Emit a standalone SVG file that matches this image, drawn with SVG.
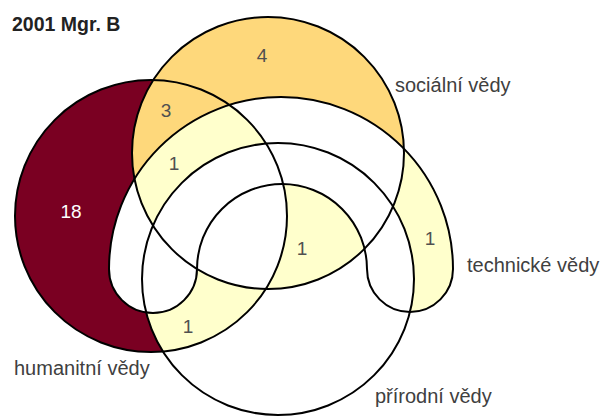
<svg xmlns="http://www.w3.org/2000/svg" xmlns:xlink="http://www.w3.org/1999/xlink" width="605" height="416" viewBox="0 0 605 416">
<style>
.outline{fill:none;stroke:#000;stroke-width:2}
.label{font-family:"Liberation Sans",Arial,sans-serif;font-size:20px;fill:#404040}
.num{font-family:"Liberation Sans",Arial,sans-serif;font-size:19px;fill:#505050;text-anchor:middle}
.title{font-family:"Liberation Sans",Arial,sans-serif;font-size:19.5px;font-weight:bold;fill:#222}
.maroon{fill:#7A0022}
.orange{fill:#FED87B}
.yellow{fill:#FFFFCC}
</style>
<defs>
<circle id="cH" cx="151" cy="216" r="136"/>
<circle id="cS" cx="268" cy="153" r="136"/>
<circle id="cP" cx="278" cy="279" r="136"/>
<path id="pT" d="M109,269 A172,172 0 0 1 453,269 A43,43 0 0 1 367,269 A85,85 0 0 0 197,269 A44,44 0 0 1 109,269 Z"/>
<clipPath id="clipH"><use xlink:href="#cH"/></clipPath>
<clipPath id="clipS"><use xlink:href="#cS"/></clipPath>
<mask id="mSTP" maskUnits="userSpaceOnUse" x="0" y="0" width="605" height="416">
<rect width="605" height="416" fill="#fff"/>
<use xlink:href="#cS" fill="#000"/><use xlink:href="#pT" fill="#000"/><use xlink:href="#cP" fill="#000"/>
</mask>
<mask id="mTP" maskUnits="userSpaceOnUse" x="0" y="0" width="605" height="416">
<rect width="605" height="416" fill="#fff"/>
<use xlink:href="#pT" fill="#000"/><use xlink:href="#cP" fill="#000"/>
</mask>
<mask id="mP" maskUnits="userSpaceOnUse" x="0" y="0" width="605" height="416">
<rect width="605" height="416" fill="#fff"/>
<use xlink:href="#cP" fill="#000"/>
</mask>
<mask id="mHT" maskUnits="userSpaceOnUse" x="0" y="0" width="605" height="416">
<rect width="605" height="416" fill="#fff"/>
<use xlink:href="#cH" fill="#000"/><use xlink:href="#pT" fill="#000"/>
</mask>
<mask id="mHSP" maskUnits="userSpaceOnUse" x="0" y="0" width="605" height="416">
<rect width="605" height="416" fill="#fff"/>
<use xlink:href="#cH" fill="#000"/><use xlink:href="#cS" fill="#000"/><use xlink:href="#cP" fill="#000"/>
</mask>
<mask id="mST" maskUnits="userSpaceOnUse" x="0" y="0" width="605" height="416">
<rect width="605" height="416" fill="#fff"/>
<use xlink:href="#cS" fill="#000"/><use xlink:href="#pT" fill="#000"/>
</mask>
</defs>
<rect width="605" height="416" fill="#fff"/>
<g id="regions">
<use xlink:href="#cH" class="maroon" mask="url(#mSTP)"/>
<use xlink:href="#cS" class="orange" mask="url(#mTP)"/>
<g clip-path="url(#clipH)"><g clip-path="url(#clipS)"><use xlink:href="#pT" class="yellow" mask="url(#mP)"/></g></g>
<g clip-path="url(#clipS)"><use xlink:href="#cP" class="yellow" mask="url(#mHT)"/></g>
<use xlink:href="#pT" class="yellow" mask="url(#mHSP)"/>
<g clip-path="url(#clipH)"><use xlink:href="#cP" class="yellow" mask="url(#mST)"/></g>
</g>
<g id="humanitni-vedy">
<use xlink:href="#cH" class="outline"/>
<text class="label" x="14" y="375">humanitní vědy</text>
</g>
<g id="socialni-vedy">
<use xlink:href="#cS" class="outline"/>
<text class="label" x="395" y="92">sociální vědy</text>
</g>
<g id="prirodni-vedy">
<use xlink:href="#cP" class="outline"/>
<text class="label" x="375" y="403">přírodní vědy</text>
</g>
<g id="technicke-vedy">
<use xlink:href="#pT" class="outline"/>
<text class="label" x="467" y="272">technické vědy</text>
</g>
<g id="counts">
<text class="num" x="262" y="62">4</text>
<text class="num" x="166" y="117">3</text>
<text class="num" x="174" y="170">1</text>
<text class="num" x="71" y="218" style="fill:#fff">18</text>
<text class="num" x="302" y="255">1</text>
<text class="num" x="430" y="245">1</text>
<text class="num" x="188" y="333">1</text>
</g>
<text class="title" x="12" y="31">2001 Mgr. B</text>
</svg>
